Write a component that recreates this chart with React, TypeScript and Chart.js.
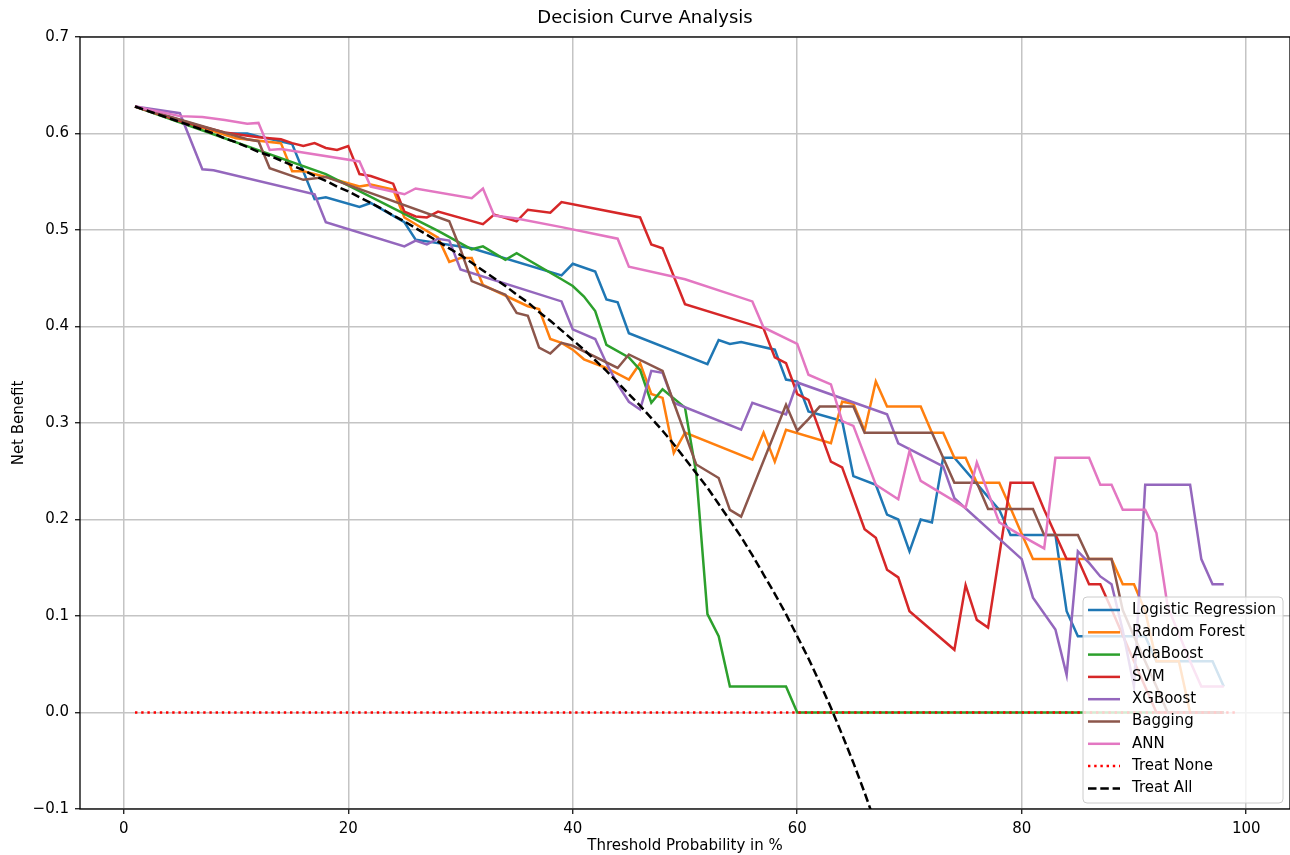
import React, { useEffect, useRef } from "react";
import { Chart, registerables } from "chart.js";

Chart.register(...registerables);

const FONT = '"DejaVu Sans", "Liberation Sans", sans-serif';

const chartTitle = "Decision Curve Analysis";
const xAxisTitle = "Threshold Probability in %";
const yAxisTitle = "Net Benefit";
const xTickValues = [0, 20, 40, 60, 80, 100];
const yTickValues = [-0.1, 0, 0.1, 0.2, 0.3, 0.4, 0.5, 0.6, 0.7];

const seriesNames = [
  "Logistic Regression",
  "Random Forest",
  "AdaBoost",
  "SVM",
  "XGBoost",
  "Bagging",
  "ANN",
  "Treat None",
  "Treat All",
];
const seriesColors = [
  "#1f77b4",
  "#ff7f0e",
  "#2ca02c",
  "#d62728",
  "#9467bd",
  "#8c564b",
  "#e377c2",
  "#ff0000",
  "#000000",
];

// Logistic Regression
const lrX = [1, 9, 11, 12, 15, 17, 18, 21, 22, 25, 26, 31, 39, 40, 42, 43, 44, 45, 52, 53, 54, 55, 58, 59, 60, 61, 64, 65, 67, 68, 69, 70, 71, 72, 73, 74, 78, 79, 83, 84, 85, 91, 92, 97, 98];
const lrY = [0.628, 0.6, 0.6, 0.597, 0.589, 0.532, 0.534, 0.524, 0.528, 0.508, 0.49, 0.481, 0.453, 0.465, 0.457, 0.428, 0.425, 0.393, 0.361, 0.386, 0.382, 0.384, 0.376, 0.345, 0.343, 0.312, 0.302, 0.245, 0.236, 0.205, 0.2, 0.167, 0.2, 0.197, 0.264, 0.264, 0.21, 0.184, 0.184, 0.105, 0.079, 0.079, 0.053, 0.053, 0.027];

// Random Forest
const rfX = [1, 10, 14, 15, 16, 18, 21, 22, 24, 25, 28, 29, 30, 31, 32, 36, 37, 38, 39, 40, 41, 43, 45, 46, 47, 48, 49, 50, 56, 57, 58, 59, 63, 64, 65, 66, 67, 68, 71, 72, 73, 74, 75, 76, 78, 79, 80, 81, 88, 89, 90, 91, 92, 94, 95, 98];
const rfY = [0.628, 0.595, 0.59, 0.561, 0.561, 0.555, 0.545, 0.547, 0.542, 0.513, 0.492, 0.467, 0.471, 0.471, 0.443, 0.421, 0.418, 0.387, 0.383, 0.376, 0.366, 0.357, 0.345, 0.362, 0.33, 0.326, 0.269, 0.29, 0.262, 0.29, 0.26, 0.293, 0.279, 0.322, 0.32, 0.292, 0.343, 0.317, 0.317, 0.29, 0.29, 0.264, 0.264, 0.238, 0.238, 0.212, 0.185, 0.159, 0.159, 0.133, 0.133, 0.105, 0.053, 0.053, 0, 0];

// AdaBoost
const adaX = [1, 18, 28, 31, 32, 34, 35, 39, 40, 41, 42, 43, 45, 46, 47, 48, 50, 51, 52, 53, 54, 59, 60, 98];
const adaY = [0.628, 0.558, 0.499, 0.48, 0.483, 0.469, 0.476, 0.449, 0.442, 0.431, 0.416, 0.381, 0.368, 0.355, 0.321, 0.335, 0.316, 0.248, 0.102, 0.079, 0.027, 0.027, 0, 0];

// SVM
const svmX = [1, 5, 9, 12, 14, 15, 16, 17, 18, 19, 20, 21, 22, 24, 25, 26, 27, 28, 32, 33, 35, 36, 38, 39, 46, 47, 48, 49, 50, 57, 58, 59, 60, 61, 63, 64, 66, 67, 68, 69, 70, 74, 75, 76, 77, 79, 81, 82, 84, 85, 86, 87, 88, 90, 92, 98];
const svmY = [0.628, 0.613, 0.601, 0.596, 0.594, 0.59, 0.587, 0.59, 0.585, 0.583, 0.587, 0.558, 0.556, 0.548, 0.519, 0.514, 0.513, 0.519, 0.506, 0.516, 0.509, 0.521, 0.518, 0.529, 0.513, 0.485, 0.481, 0.452, 0.423, 0.398, 0.368, 0.362, 0.33, 0.324, 0.26, 0.254, 0.19, 0.181, 0.148, 0.14, 0.105, 0.065, 0.132, 0.096, 0.088, 0.238, 0.238, 0.21, 0.159, 0.159, 0.133, 0.133, 0.107, 0.053, 0, 0];

// XGBoost
const xgbX = [1, 5, 7, 8, 17, 18, 25, 26, 27, 28, 29, 30, 39, 40, 42, 43, 44, 45, 46, 47, 48, 49, 55, 56, 59, 60, 68, 69, 73, 74, 80, 81, 83, 84, 85, 86, 87, 88, 89, 90, 91, 95, 96, 97, 98];
const xgbY = [0.628, 0.621, 0.563, 0.562, 0.537, 0.508, 0.483, 0.489, 0.485, 0.491, 0.489, 0.459, 0.426, 0.397, 0.387, 0.362, 0.34, 0.322, 0.314, 0.354, 0.352, 0.321, 0.293, 0.321, 0.309, 0.342, 0.309, 0.279, 0.255, 0.222, 0.159, 0.119, 0.086, 0.039, 0.167, 0.155, 0.141, 0.133, 0.085, 0.027, 0.236, 0.236, 0.159, 0.133, 0.133];

// Bagging
const bagX = [1, 11, 12, 13, 16, 18, 29, 30, 31, 34, 35, 36, 37, 38, 39, 40, 44, 45, 48, 49, 51, 53, 54, 55, 59, 60, 61, 62, 65, 66, 72, 74, 76, 77, 81, 82, 85, 86, 88, 89, 90, 92, 93, 98];
const bagY = [0.628, 0.594, 0.592, 0.564, 0.552, 0.555, 0.509, 0.48, 0.447, 0.433, 0.414, 0.411, 0.378, 0.372, 0.383, 0.38, 0.357, 0.371, 0.354, 0.321, 0.257, 0.243, 0.21, 0.203, 0.319, 0.292, 0.304, 0.317, 0.317, 0.29, 0.29, 0.238, 0.238, 0.211, 0.211, 0.184, 0.184, 0.159, 0.159, 0.106, 0.079, 0.027, 0, 0];

// ANN
const annX = [1, 5, 7, 9, 11, 12, 13, 14, 21, 22, 25, 26, 31, 32, 33, 35, 39, 44, 45, 50, 56, 57, 60, 61, 63, 64, 65, 67, 69, 70, 71, 75, 76, 78, 80, 82, 83, 86, 87, 88, 89, 91, 92, 93, 95, 96, 98];
const annY = [0.628, 0.618, 0.617, 0.614, 0.61, 0.611, 0.583, 0.584, 0.571, 0.545, 0.537, 0.543, 0.533, 0.543, 0.515, 0.512, 0.503, 0.491, 0.462, 0.449, 0.426, 0.399, 0.382, 0.35, 0.34, 0.302, 0.297, 0.236, 0.221, 0.271, 0.24, 0.212, 0.259, 0.197, 0.183, 0.17, 0.264, 0.264, 0.236, 0.236, 0.21, 0.21, 0.186, 0.11, 0.053, 0.027, 0.027];

// Treat None
const noneX = [1, 99];
const noneY = [0, 0];

// Treat All
const allX = [1, 2, 3, 4, 5, 6, 7, 8, 9, 10, 11, 12, 13, 14, 15, 16, 17, 18, 19, 20, 21, 22, 23, 24, 25, 26, 27, 28, 29, 30, 31, 32, 33, 34, 35, 36, 37, 38, 39, 40, 41, 42, 43, 44, 45, 46, 47, 48, 49, 50, 51, 52, 53, 54, 55, 56, 57, 58, 59, 60, 61, 62, 63, 64, 65, 66, 67, 68];
const allY = [0.628, 0.624, 0.62, 0.616, 0.612, 0.608, 0.604, 0.6, 0.595, 0.591, 0.586, 0.581, 0.577, 0.572, 0.567, 0.562, 0.556, 0.551, 0.545, 0.54, 0.534, 0.528, 0.522, 0.515, 0.509, 0.502, 0.495, 0.488, 0.481, 0.474, 0.466, 0.458, 0.45, 0.442, 0.433, 0.425, 0.415, 0.406, 0.396, 0.386, 0.376, 0.365, 0.354, 0.342, 0.33, 0.318, 0.305, 0.292, 0.278, 0.263, 0.248, 0.233, 0.216, 0.199, 0.182, 0.163, 0.143, 0.123, 0.102, 0.079, 0.056, 0.031, 0.005, -0.023, -0.052, -0.083, -0.116, -0.151];

const seriesX = [lrX, rfX, adaX, svmX, xgbX, bagX, annX, noneX, allX];
const seriesY = [lrY, rfY, adaY, svmY, xgbY, bagY, annY, noneY, allY];
const seriesDash = [[], [], [], [], [], [], [], [2.4, 3.8], [8.5, 3.8]];

const LINE_W = 2.5;

const framePlugin = {
  id: "frame",
  afterDatasetsDraw(chart: any) {
    const { ctx, chartArea: a } = chart;
    ctx.save();
    ctx.strokeStyle = "#000";
    ctx.lineWidth = 1.3;
    ctx.strokeRect(a.left, a.top, a.right - a.left, a.bottom - a.top);
    ctx.restore();
  },
};

const legendPlugin = {
  id: "insideLegend",
  afterDraw(chart: any) {
    const { ctx, chartArea: a } = chart;
    const items = chart.data.datasets;
    const rowH = 22.3;
    const boxW = 200;
    const boxH = 206;
    const x0 = a.right - 7 - boxW;
    const y0 = a.bottom - 6 - boxH;
    ctx.save();
    ctx.beginPath();
    if (ctx.roundRect) ctx.roundRect(x0, y0, boxW, boxH, 4);
    else ctx.rect(x0, y0, boxW, boxH);
    ctx.fillStyle = "rgba(255,255,255,0.8)";
    ctx.fill();
    ctx.strokeStyle = "#cccccc";
    ctx.lineWidth = 1;
    ctx.stroke();
    ctx.font = `15px ${FONT}`;
    ctx.textBaseline = "middle";
    ctx.textAlign = "left";
    items.forEach((ds: any, i: number) => {
      const cy = y0 + 13 + i * rowH;
      ctx.beginPath();
      ctx.setLineDash(ds.borderDash || []);
      ctx.strokeStyle = ds.borderColor;
      ctx.lineWidth = ds.borderWidth;
      ctx.moveTo(x0 + 5, cy);
      ctx.lineTo(x0 + 37, cy);
      ctx.stroke();
      ctx.setLineDash([]);
      ctx.fillStyle = "#000";
      ctx.fillText(ds.label, x0 + 49, cy);
    });
    ctx.restore();
  },
};

const fmtY = (v: number) => {
  const s = Number(v).toFixed(1);
  return s.startsWith("-") ? "\u2212" + s.slice(1) : s;
};

export default function App() {
  const canvasRef = useRef<HTMLCanvasElement | null>(null);

  useEffect(() => {
    const canvas = canvasRef.current;
    if (!canvas) return;
    const datasets = seriesNames.map((name, i) => ({
      label: name,
      data: seriesX[i].map((x, j) => ({ x, y: seriesY[i][j] })),
      borderColor: seriesColors[i],
      backgroundColor: seriesColors[i],
      borderWidth: LINE_W,
      borderDash: seriesDash[i],
      borderCapStyle: "butt",
      pointRadius: 0,
      tension: 0,
      fill: false,
      order: seriesNames.length - i,
    }));

    const chart = new Chart(canvas, {
      type: "line",
      data: { datasets: datasets as any },
      plugins: [framePlugin, legendPlugin],
      options: {
        responsive: false,
        animation: false,
        devicePixelRatio: 1,
        events: [],
        layout: { padding: 0 },
        plugins: {
          legend: { display: false },
          tooltip: { enabled: false },
          title: {
            display: true,
            text: chartTitle,
            color: "#000",
            font: { family: FONT, size: 18, weight: "normal" },
            padding: { top: 8, bottom: 7.4 },
          },
        },
        scales: {
          x: {
            type: "linear",
            min: -3.9,
            max: 103.9,
            afterBuildTicks: (scale: any) => {
              scale.ticks = xTickValues.map((v) => ({ value: v }));
            },
            afterFit: (scale: any) => {
              scale.height = 46;
            },
            border: { display: false },
            grid: {
              color: "#c4c4c4",
              lineWidth: 1.5,
              drawTicks: true,
              tickLength: 5,
              tickColor: "#000",
              tickWidth: 1.2,
            },
            ticks: {
              color: "#000",
              padding: 6,
              maxRotation: 0,
              font: { family: FONT, size: 15 },
              callback: (v: any) => String(v),
            },
            title: {
              display: true,
              text: xAxisTitle,
              color: "#000",
              font: { family: FONT, size: 15 },
              padding: { top: 0, bottom: 0 },
            },
          },
          y: {
            type: "linear",
            min: -0.1,
            max: 0.7,
            afterBuildTicks: (scale: any) => {
              scale.ticks = yTickValues.map((v) => ({ value: v }));
            },
            afterFit: (scale: any) => {
              scale.width = 80;
            },
            border: { display: false },
            grid: {
              color: "#c4c4c4",
              lineWidth: 1.5,
              drawTicks: true,
              tickLength: 5,
              tickColor: "#000",
              tickWidth: 1.2,
            },
            ticks: {
              color: "#000",
              padding: 6,
              font: { family: FONT, size: 15 },
              callback: (v: any) => fmtY(v),
            },
            title: {
              display: true,
              text: yAxisTitle,
              color: "#000",
              font: { family: FONT, size: 15 },
              padding: { top: 10, bottom: 0 },
            },
          },
        },
      } as any,
    });
    return () => chart.destroy();
  }, []);

  return (
    <div style={{ position: "absolute", left: 0, top: 0, width: 1290, height: 855, background: "#fff" }}>
      <canvas ref={canvasRef} width={1290} height={855} style={{ display: "block" }} />
    </div>
  );
}
